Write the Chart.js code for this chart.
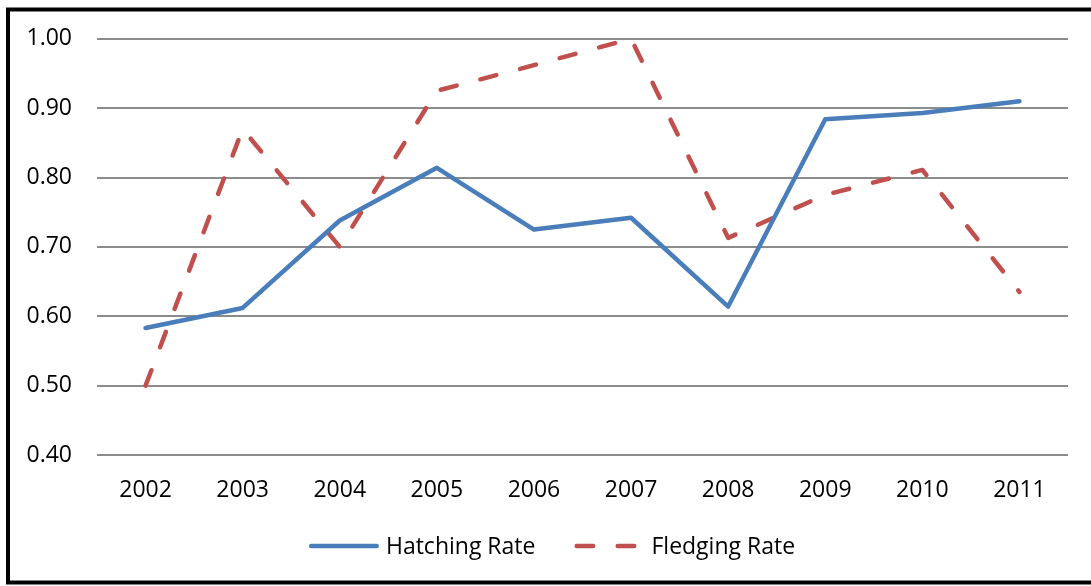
<!DOCTYPE html>
<html>
<head>
<meta charset="utf-8">
<script src="https://cdn.jsdelivr.net/npm/chart.js@4.4.1/dist/chart.umd.min.js"></script>
<style>
  html, body { margin: 0; padding: 0; background: #fff; }
  #wrap { position: relative; width: 1091px; height: 586px; }
  canvas { display: block; }
</style>
</head>
<body>
<div id="wrap"><canvas id="c" width="1091" height="586"></canvas></div>
<script>
// Nesting success by season
const years = ['2002', '2003', '2004', '2005', '2006', '2007', '2008', '2009', '2010', '2011'];
const hatchingRate = [0.583, 0.612, 0.738, 0.814, 0.725, 0.742, 0.614, 0.884, 0.893, 0.910];
const fledgingRate = [0.500, 0.870, 0.700, 0.925, 0.962, 1.000, 0.713, 0.775, 0.811, 0.635];
const yTickValues = [0.40, 0.50, 0.60, 0.70, 0.80, 0.90, 1.00];
const seriesNames = ['Hatching Rate', 'Fledging Rate'];

const FONT = '"Open Sans", "Liberation Sans", sans-serif';

// Outer frame of the chart box
const framePlugin = {
  id: 'frame',
  beforeDraw(chart) {
    const ctx = chart.ctx;
    ctx.save();
    ctx.fillStyle = '#ffffff';
    ctx.fillRect(0, 0, chart.width, chart.height);
    ctx.strokeStyle = '#000000';
    ctx.lineWidth = 4;
    ctx.strokeRect(8, 9.5, 1120, 573);
    ctx.restore();
  }
};

// Legend below the axis: line sample followed by series name
const lineLegendPlugin = {
  id: 'lineLegend',
  afterDraw(chart, args, opts) {
    const ctx = chart.ctx;
    ctx.save();
    ctx.font = opts.fontSize + 'px ' + FONT;
    ctx.textBaseline = 'middle';
    ctx.fillStyle = '#000';
    const items = chart.data.datasets.map(ds => ({
      ds, textW: ctx.measureText(ds.label).width
    }));
    const total = items.reduce((s, it) => s + opts.sample + opts.textGap + it.textW, 0)
      + opts.itemGap * (items.length - 1);
    let x = opts.centerX - total / 2;
    const y = opts.y;
    items.forEach(it => {
      ctx.beginPath();
      ctx.strokeStyle = it.ds.borderColor;
      ctx.lineWidth = it.ds.borderWidth;
      ctx.lineCap = 'round';
      ctx.setLineDash(it.ds.borderDash || []);
      const cap = it.ds.borderWidth / 2;
      ctx.moveTo(x + cap, y);
      ctx.lineTo(x + opts.sample - cap, y);
      ctx.stroke();
      ctx.setLineDash([]);
      x += opts.sample + opts.textGap;
      ctx.fillText(it.ds.label, x, y + 1);
      x += it.textW + opts.itemGap;
    });
    ctx.restore();
  }
};

new Chart(document.getElementById('c'), {
  type: 'line',
  data: {
    labels: years,
    datasets: [
      {
        label: seriesNames[0],
        data: hatchingRate,
        borderColor: '#4a7ebb',
        backgroundColor: '#4a7ebb',
        borderWidth: 4.5,
        borderCapStyle: 'round',
        borderJoinStyle: 'round',
        pointRadius: 0,
        tension: 0,
        fill: false
      },
      {
        label: seriesNames[1],
        data: fledgingRate,
        borderColor: '#c0504d',
        backgroundColor: '#c0504d',
        borderWidth: 4.5,
        borderDash: [16.5, 24.5],
        borderCapStyle: 'round',
        borderJoinStyle: 'round',
        pointRadius: 0,
        tension: 0,
        fill: false
      }
    ]
  },
  options: {
    responsive: false,
    devicePixelRatio: 1,
    animation: false,
    layout: { padding: { left: 0, right: 23, top: 37.5, bottom: 0 } },
    plugins: {
      legend: { display: false },
      tooltip: { enabled: false },
      lineLegend: { centerX: 552, y: 546, sample: 70, textGap: 7, itemGap: 39, fontSize: 23 }
    },
    scales: {
      x: {
        type: 'category',
        offset: true,
        grid: { display: false, drawTicks: false },
        border: { display: false },
        ticks: {
          color: '#000',
          font: { family: FONT, size: 23 },
          padding: 22,
          maxRotation: 0,
          autoSkip: false
        },
        afterFit(scale) { scale.height = 131; }
      },
      y: {
        min: 0.4,
        max: 1.0,
        grid: { color: '#8c8c8c', lineWidth: 2, drawTicks: false },
        border: { display: false },
        afterBuildTicks(scale) {
          scale.ticks = yTickValues.map(v => ({ value: v }));
        },
        ticks: {
          color: '#000',
          font: { family: FONT, size: 23 },
          padding: 25,
          callback: v => Number(v).toFixed(2)
        },
        afterFit(scale) { scale.width = 97; }
      }
    }
  },
  plugins: [framePlugin, lineLegendPlugin]
});
</script>
</body>
</html>
